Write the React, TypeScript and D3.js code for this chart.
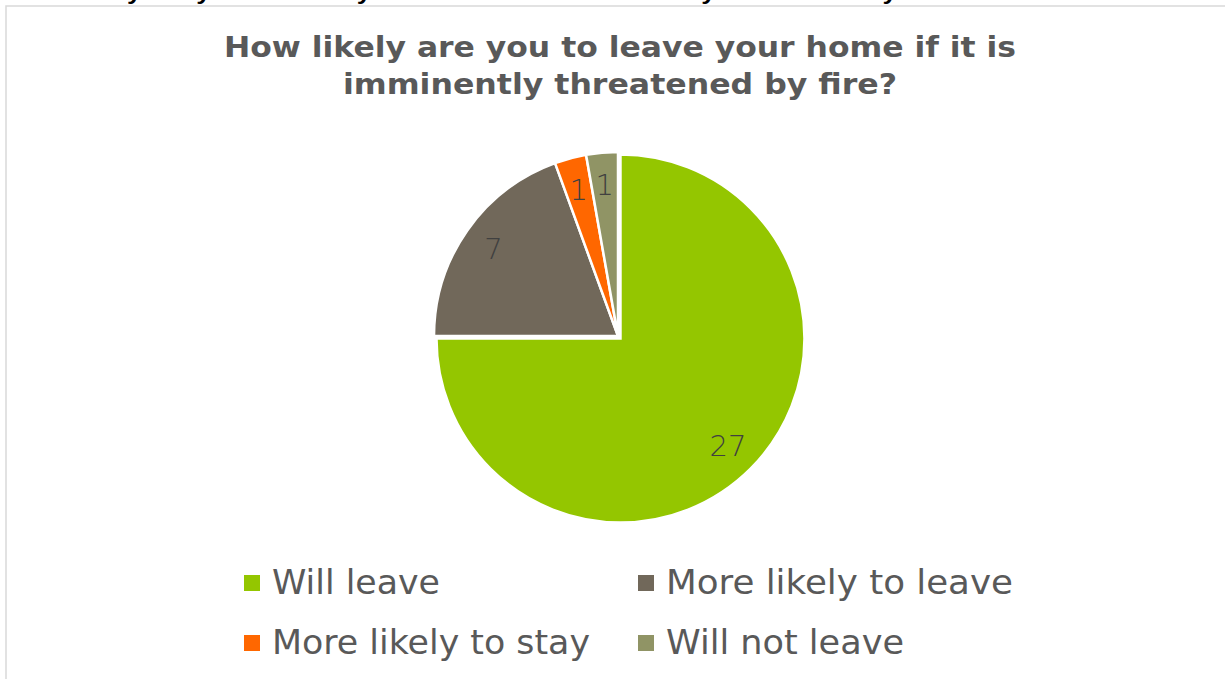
import React from "react";
import * as d3 from "d3";

const categories = ["Will leave", "More likely to leave", "More likely to stay", "Will not leave"];
const values = [27, 7, 1, 1];
const colors = ["#94C600", "#71685A", "#FF6700", "#909465"];
const titleLines = ["How likely are you to leave your home if it is", "imminently threatened by fire?"];
const cutTitle = "How likely are you to leave your home if it is imminently threatened by fire?";

const W = 1225;
const H = 679;
const cx = 618;
const cy = 336;
const R = 184;
const labelR = 152;

export default function App() {
  const pie = d3.pie<number>().sort(null).startAngle(0).endAngle(2 * Math.PI);
  const arcs = pie(values);
  const arc = d3.arc<d3.PieArcDatum<number>>().innerRadius(0).outerRadius(R);
  const labelArc = d3.arc<d3.PieArcDatum<number>>().innerRadius(labelR).outerRadius(labelR);

  const explode = (i: number) => {
    if (i !== 0) return [0, 0];
    const a = (arcs[i].startAngle + arcs[i].endAngle) / 2;
    const d = 3.5;
    return [Math.sin(a) * d, -Math.cos(a) * d];
  };

  const legendItems = [
    { x: 244, y: 594, w: 168 },
    { x: 638, y: 594, w: 347 },
    { x: 244, y: 654, w: 318 },
    { x: 638, y: 654, w: 238 },
  ];

  return (
    <svg width={W} height={H} style={{ position: "absolute", left: 0, top: 0, background: "#fff" }}>
      <rect x={0} y={0} width={W} height={H} fill="#fff" />
      <text
        x={12}
        y={-1}
        fontFamily="Liberation Sans, Arial, sans-serif"
        fontWeight="bold"
        fontSize={22}
        fill="#000"
        textLength={950}
        lengthAdjust="spacingAndGlyphs"
      >
        {cutTitle}
      </text>
      <rect x={6} y={6} width={W + 10} height={H + 10} fill="none" stroke="#d9d9d9" strokeWidth={1.5} />
      {titleLines.map((t, i) => (
        <text
          key={i}
          x={620}
          y={57 + i * 37}
          textAnchor="middle"
          fontFamily="DejaVu Sans, sans-serif"
          fontWeight="bold"
          fontSize={28}
          fill="#595959"
          textLength={i === 0 ? 792 : 554}
          lengthAdjust="spacingAndGlyphs"
        >
          {t}
        </text>
      ))}
      <g>
        {arcs.map((a, i) => {
          const [dx, dy] = explode(i);
          return (
            <path
              key={i}
              d={arc(a) || ""}
              transform={`translate(${cx + dx},${cy + dy})`}
              fill={colors[i]}
              stroke="#fff"
              strokeWidth={2.5}
              strokeLinejoin="miter"
            />
          );
        })}
        {arcs.map((a, i) => {
          const [dx, dy] = explode(i);
          const [lx, ly] = labelArc.centroid(a);
          return (
            <text
              key={"l" + i}
              x={cx + dx + lx}
              y={cy + dy + ly}
              dy="0.36em"
              textAnchor="middle"
              fontFamily="DejaVu Sans, sans-serif"
              fontSize={29}
              fill="#404040"
              style={{ fontWeight: 300 }}
            >
              {values[i]}
            </text>
          );
        })}
      </g>
      {categories.map((c, i) => {
        const it = legendItems[i];
        return (
          <g key={c}>
            <rect x={it.x} y={it.y - 19} width={16} height={16} fill={colors[i]} />
            <text
              x={it.x + 28}
              y={it.y}
              fontFamily="DejaVu Sans, sans-serif"
              fontSize={34}
              fill="#595959"
              textLength={it.w}
              lengthAdjust="spacingAndGlyphs"
            >
              {c}
            </text>
          </g>
        );
      })}
    </svg>
  );
}
